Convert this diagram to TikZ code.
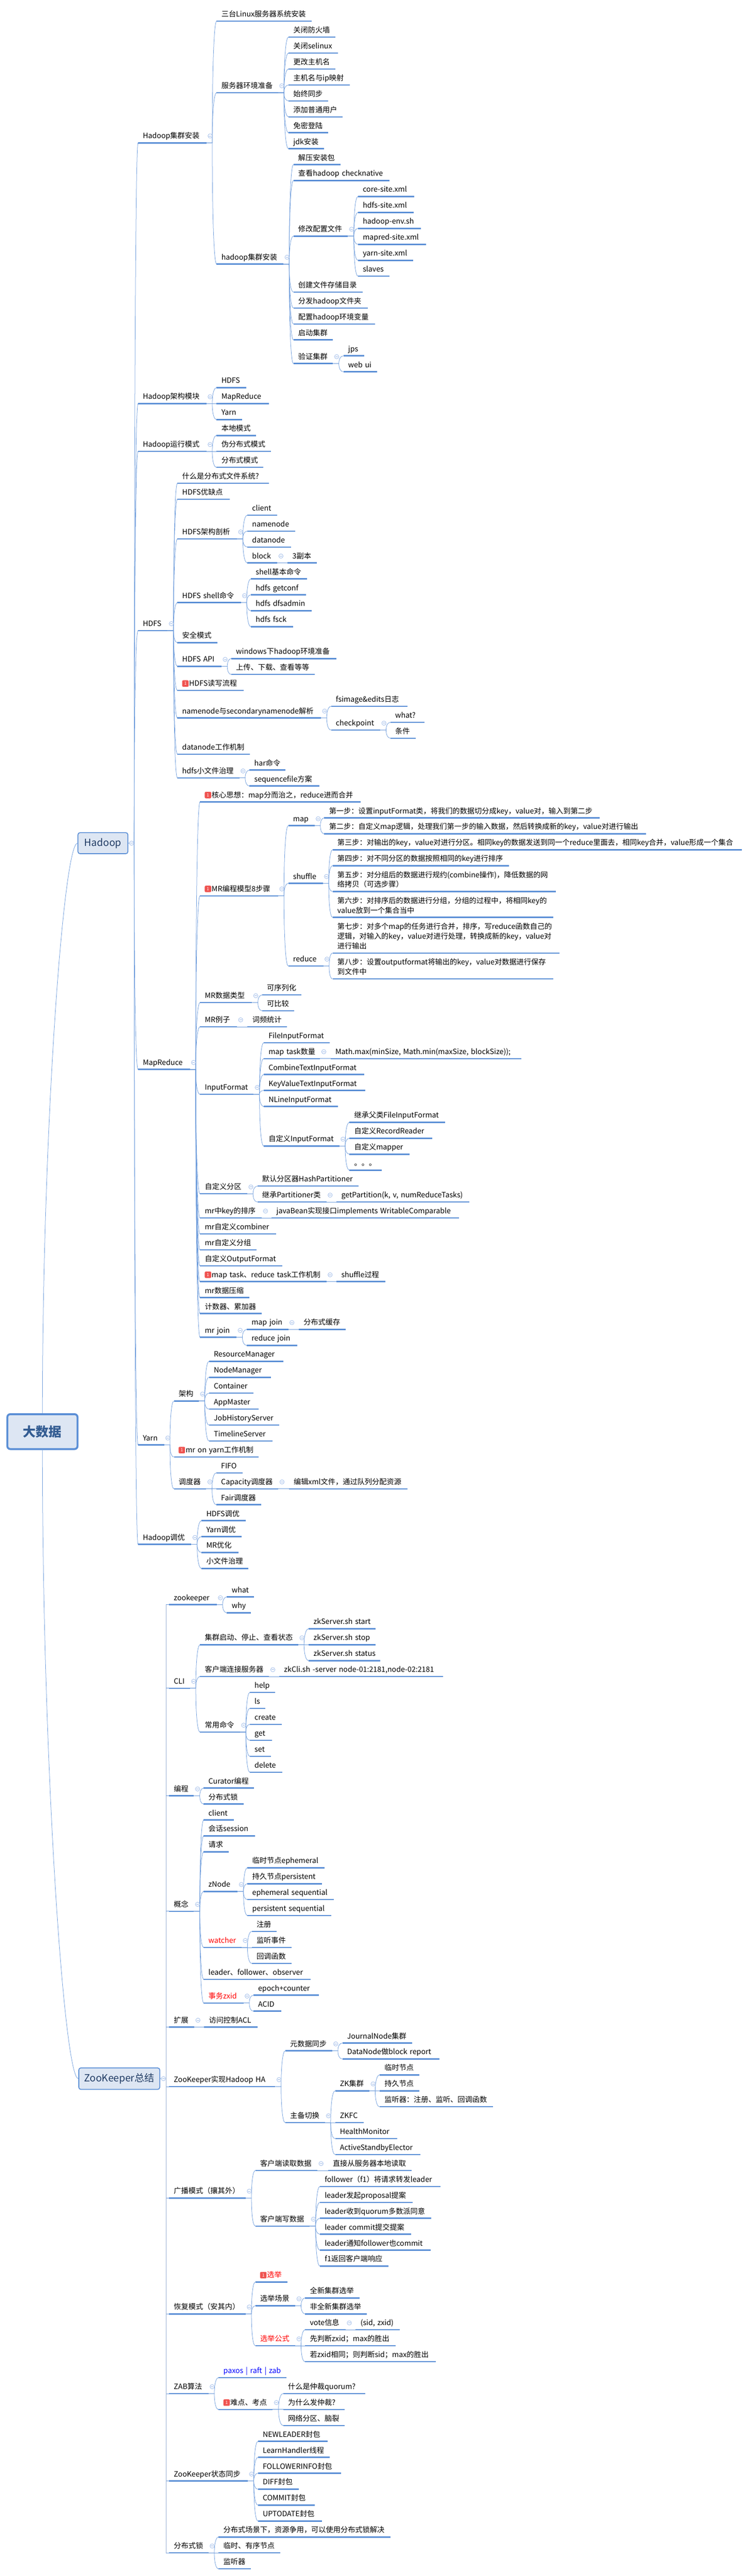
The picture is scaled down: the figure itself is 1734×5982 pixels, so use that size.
\documentclass[tikz,border=0pt]{standalone}
\usepackage{fontspec}
\setmainfont{Noto Sans CJK SC}
\usetikzlibrary{calc}
\definecolor{ulblue}{HTML}{5B8FD6}
\definecolor{lnblue}{HTML}{6C9BDB}
\definecolor{elbow}{HTML}{9DB2D3}
\definecolor{foldc}{HTML}{9DBAE8}
\definecolor{boxfill}{HTML}{DDE6F3}
\definecolor{rootink}{HTML}{335C92}
\definecolor{zkink}{HTML}{1F3A63}
\definecolor{badgered}{HTML}{EF5350}
\tikzset{
  topic/.style={anchor=south west,inner xsep=11pt,inner ysep=0pt,align=left,text depth=10pt,text height=13pt,
    font=\fontsize{17}{22.5}\selectfont,text=black},
  twolines/.style={text depth=32.5pt},
  threelines/.style={text depth=55pt},
  ul/.style={draw=ulblue,line width=3pt},
  conn/.style={draw=lnblue,line width=0.9pt},
  connel/.style={draw=elbow,line width=0.9pt},
  foldicon/.style={circle,draw=foldc,fill=white,line width=0.9pt,minimum size=10pt,inner sep=0pt},
  foldbar/.style={draw=foldc,line width=0.9pt},
  badge/.style={rectangle,fill=badgered,rounded corners=2.5pt,minimum width=15pt,minimum height=15pt,inner sep=0pt,
    text=white,font=\fontsize{10}{10}\selectfont},
  rootbox/.style={rectangle,draw=ulblue,fill=boxfill,line width=4.5pt,rounded corners=7pt,text=rootink,
    font=\fontsize{30}{30}\selectfont\bfseries,inner sep=0pt},
  mainbox/.style={rectangle,draw=ulblue,fill=boxfill,line width=2pt,rounded corners=5pt,text=zkink,
    font=\fontsize{23}{23}\selectfont,inner sep=0pt,anchor=west},
}
\newcommand{\Ln}[1]{\leavevmode\rlap{#1}}
% \Tp[opts]{name}{x left}{x right}{y of the underline}{text}
\newcommand{\Tp}[6][]{%
  \pgfmathsetmacro{\tw}{#4-#3-22}%
  \node[topic,#1,text width=\tw pt] (#2) at (#3,#5) {\Ln{#6}};
  \draw[ul] (#2.south west) -- (#2.south east);
}
% several lines of text, each in its own \Ln
\newcommand{\Tm}[6][]{%
  \pgfmathsetmacro{\tw}{#4-#3-22}%
  \node[topic,#1,text width=\tw pt] (#2) at (#3,#5) {#6};
  \draw[ul] (#2.south west) -- (#2.south east);
}
\newcommand{\Conn}[3][south east]{%
  \draw[conn] let \p1=(#2.#1),\p2=(#3.south west) in
    (\p1) -- (\x1+13.5pt,\y1)
    .. controls (\x1+13.5pt,{\y1+0.5*(\y2-\y1)}) and ({\x1+13.5pt+0.3*(\x2-\x1-13.5pt)},\y2) .. (\p2);
}
\newcommand{\Fold}[2][south east]{%
  \node[foldicon] (f-#2) at ($(#2.#1)+(8.5,-16)$) {};
  \draw[foldbar] ($(f-#2.west)+(2.5,0)$) -- ($(f-#2.east)+(-2.5,0)$);
}
\newcommand{\FoldE}[1]{%
  \node[foldicon] (f-#1) at ($(#1.east)+(7.5,0)$) {};
  \draw[foldbar] ($(f-#1.west)+(2.5,0)$) -- ($(f-#1.east)+(-2.5,0)$);
}
\newcommand{\Kids}[2]{%
  \foreach \kid in {#2} {\Conn{#1}{\kid}}
  \Fold{#1}
}
\newcommand{\Badge}[1]{\node[badge] (b-#1) at ($(#1.south west)+(18.5,-16)$) {1};}
\begin{document}
\begin{tikzpicture}[x=1pt,y=-1pt]
\useasboundingbox (0,0) rectangle (1734,5982);
\fill[white] (0,0) rectangle (1734,5982);

% ---------- roots
\node[rootbox,minimum width=163pt,minimum height=81pt] (root) at (98.5,3324.5) {大数据};
\node[mainbox,minimum width=116pt,minimum height=49pt] (hadoop) at (180,1958) {Hadoop};
\node[mainbox,minimum width=188pt,minimum height=50pt] (zk) at (182,4827) {ZooKeeper总结};

% ---------- Hadoop: first level
\Tp{h1}{320.5}{479}{331.7}{Hadoop集群安装}
\Tp{h2}{320.5}{479}{937.3}{Hadoop架构模块}
\Tp{h3}{320.5}{479}{1048.3}{Hadoop运行模式}
\Tp{h4}{320.5}{389}{1464.3}{HDFS}
\Tp{h5}{320.5}{440.6}{2483.3}{MapReduce}
\Tp{h6}{320.5}{380.8}{3355.3}{Yarn}
\Tp{h7}{320.5}{443.8}{3586.3}{Hadoop调优}

% Hadoop集群安装
\Tp{a1}{503}{723}{49.3}{三台Linux服务器系统安装}
\Tp{a2}{503}{645.5}{215.3}{服务器环境准备}
\Tp{a3}{503}{657.7}{613.3}{hadoop集群安装}
\Tp{a21}{670}{778}{86.3}{关闭防火墙}
\Tp{a22}{670}{784.6}{123.3}{关闭selinux}
\Tp{a23}{670}{778}{160.3}{更改主机名}
\Tp{a24}{670}{811.5}{197.3}{主机名与ip映射}
\Tp{a25}{670}{761.5}{234.3}{始终同步}
\Tp{a26}{670}{795.5}{271.3}{添加普通用户}
\Tp{a27}{670}{761.5}{308.3}{免密登陆}
\Tp{a28}{670}{752}{345.3}{jdk安装}
\Tp{a31}{681.4}{790.4}{382.3}{解压安装包}
\Tp{a32}{681.4}{904}{419.3}{查看hadoop checknative}
\Tp{a33}{681.4}{807.7}{548.3}{修改配置文件}
\Tp{a34}{681.4}{841.7}{678.3}{创建文件存储目录}
\Tp{a35}{681.4}{853.8}{715.3}{分发hadoop文件夹}
\Tp{a36}{681.4}{870.5}{752.3}{配置hadoop环境变量}
\Tp{a37}{681.4}{773}{789.3}{启动集群}
\Tp{a38}{681.4}{773}{844.3}{验证集群}
\Tp{a331}{831.4}{961.5}{456.3}{core-site.xml}
\Tp{a332}{831.4}{960.3}{493.3}{hdfs-site.xml}
\Tp{a333}{831.4}{977.6}{530.5}{hadoop-env.sh}
\Tp{a334}{831.4}{988.5}{567.5}{mapred-site.xml}
\Tp{a335}{831.4}{959}{604.5}{yarn-site.xml}
\Tp{a336}{831.4}{904}{641.5}{slaves}
\Tp{a381}{797.4}{845}{826.3}{jps}
\Tp{a382}{797.4}{875}{863.3}{web ui}
% 架构模块, 运行模式
\Tp{b1}{503}{571}{900.3}{HDFS}
\Tp{b2}{503}{624.4}{937.3}{MapReduce}
\Tp{b3}{503}{562}{974.3}{Yarn}
\Tp{c1}{503}{594}{1011.3}{本地模式}
\Tp{c2}{503}{629}{1048.3}{伪分布式模式}
\Tp{c3}{503}{611.5}{1085.3}{分布式模式}
% HDFS
\Tp{d1}{412}{624.4}{1122.3}{什么是分布式文件系统?}
\Tp{d2}{412}{533}{1159.3}{HDFS优缺点}
\Tp{d3}{412}{550}{1251.3}{HDFS架构剖析}
\Tp{d4}{412}{559}{1399.3}{HDFS shell命令}
\Tp{d5}{412}{505}{1492.3}{安全模式}
\Tp{d6}{412}{514}{1547.3}{HDFS API}
\Tp{d7}{412}{565.6}{1603.3}{\hspace*{16pt}HDFS读写流程}
\Tp{d8}{412}{744.9}{1667.3}{namenode与secondarynamenode解析}
\Tp{d9}{412}{580.3}{1751.3}{datanode工作机制}
\Tp{d10}{412}{555.5}{1806.3}{hdfs小文件治理}
\Badge{d7}
\Tp{d31}{574.4}{643.6}{1196.3}{client}
\Tp{d32}{574.4}{684.6}{1233.3}{namenode}
\Tp{d33}{574.4}{675}{1270.3}{datanode}
\Tp{d34}{574.4}{643.6}{1307.3}{block}
\Tp{d341}{668}{735}{1307.3}{3副本}
\Tp{d41}{582.7}{712.8}{1344.3}{shell基本命令}
\Tp{d42}{582.7}{710}{1381.3}{hdfs getconf}
\Tp{d43}{582.7}{724}{1418.3}{hdfs dfsadmin}
\Tp{d44}{582.7}{680}{1455.3}{hdfs fsck}
\Tp{d61}{537}{781.4}{1529.3}{windows下hadoop环境准备}
\Tp{d62}{537}{730}{1566.3}{上传、下载、查看等等}
\Tp{d81}{768.8}{946}{1640.3}{fsimage\&edits日志}
\Tp{d82}{768.8}{882.7}{1695.3}{checkpoint}
\Tp{d821}{906.6}{985.7}{1677.3}{what?}
\Tp{d822}{906.6}{964.5}{1714.3}{条件}
\Tp{d101}{579.4}{662}{1788.3}{har命令}
\Tp{d102}{579.4}{741}{1825.3}{sequencefile方案}
% MapReduce
\Tp{e1}{464.5}{836.8}{1862.3}{\hspace*{16pt}核心思想：map分而治之，reduce进而合并}
\Tp{e2}{464.5}{645.6}{2080.3}{\hspace*{16pt}MR编程模型8步骤}
\Tp{e3}{464.5}{585}{2328.3}{MR数据类型}
\Tp{e4}{464.5}{550}{2384.3}{MR例子}
\Tp{e5}{464.5}{588.6}{2541.3}{InputFormat}
\Tp{e6}{464.5}{573.8}{2772.3}{自定义分区}
\Tp{e7}{464.5}{607.7}{2828.3}{mr中key的排序}
\Tp{e8}{464.5}{640.8}{2865.3}{mr自定义combiner}
\Tp{e9}{464.5}{595.4}{2902.3}{mr自定义分组}
\Tp{e10}{464.5}{655.4}{2939.3}{自定义OutputFormat}
\Tp{e11}{464.5}{757.7}{2976.3}{\hspace*{16pt}map task、reduce task工作机制}
\Tp{e12}{464.5}{578.5}{3013.3}{mr数据压缩}
\Tp{e13}{464.5}{607.7}{3050.3}{计数器、累加器}
\Tp{e14}{464.5}{549}{3105.3}{mr join}
\Badge{e1}\Badge{e2}\Badge{e11}
\Tp{e21}{669.5}{730}{1917.3}{map}
\Tp{e22}{669.5}{749.4}{2051.3}{shuffle}
\Tp{e23}{669.5}{750.4}{2243.3}{reduce}
\Tp{s1}{753}{1392}{1899.3}{第一步：设置inputFormat类，将我们的数据切分成key，value对，输入到第二步}
\Tp{s2}{753}{1499.5}{1936.3}{第二步：自定义map逻辑，处理我们第一步的输入数据，然后转换成新的key，value对进行输出}
\Tp{s3}{772.4}{1722.8}{1973.3}{第三步：对输出的key，value对进行分区。相同key的数据发送到同一个reduce里面去，相同key合并，value形成一个集合}
\Tp{s4}{772.4}{1182}{2010.3}{第四步：对不同分区的数据按照相同的key进行排序}
\Tm[twolines]{s5}{772.4}{1290}{2070.3}{\Ln{第五步：对分组后的数据进行规约(combine操作)，降低数据的网}\\\Ln{络拷贝（可选步骤）}}
\Tm[twolines]{s6}{772.4}{1285}{2130.3}{\Ln{第六步：对排序后的数据进行分组，分组的过程中，将相同key的}\\\Ln{value放到一个集合当中}}
\Tm[threelines]{s7}{772.4}{1299}{2213.3}{\Ln{第七步：对多个map的任务进行合并，排序，写reduce函数自己的}\\\Ln{逻辑，对输入的key，value对进行处理，转换成新的key，value对}\\\Ln{进行输出}}
\Tm[twolines]{s8}{772.4}{1284}{2273.3}{\Ln{第八步：设置outputformat将输出的key，value对数据进行保存}\\\Ln{到文件中}}
\Tp{e31}{608.8}{699.8}{2310.3}{可序列化}
\Tp{e32}{608.8}{683.3}{2347.3}{可比较}
\Tp{e41}{574.8}{665.8}{2384.3}{词频统计}
\Tp{e51}{612.5}{765}{2421.3}{FileInputFormat}
\Tp{e52}{612.5}{743}{2458.3}{map task数量}
\Tp{e53}{612.5}{846}{2495.3}{CombineTextInputFormat}
\Tp{e54}{612.5}{847.8}{2532.3}{KeyValueTextInputFormat}
\Tp{e55}{612.5}{784.4}{2569.3}{NLineInputFormat}
\Tp{e56}{612.5}{787.7}{2661.3}{自定义InputFormat}
\Tp{e521}{767.8}{1210.8}{2458.3}{Math.max(minSize, Math.min(maxSize, blockSize));}
\Tp{e561}{811.5}{1033}{2606.3}{继承父类FileInputFormat}
\Tp{e562}{811.5}{1003}{2643.3}{自定义RecordReader}
\Tp{e563}{811.5}{950.8}{2680.3}{自定义mapper}
\Tp{e564}{811.5}{886}{2717.3}{。。。}
\Tp{e61}{597.7}{832.3}{2754.3}{默认分区器HashPartitioner}
\Tp{e62}{597.7}{757.7}{2791.3}{继承Partitioner类}
\Tp{e621}{781.5}{1089}{2791.3}{getPartition(k, v, numReduceTasks)}
\Tp{e71}{630.8}{1066}{2828.3}{javaBean实现接口implements WritableComparable}
\Tp{e111}{781.5}{894.6}{2976.3}{shuffle过程}
\Tp{e141}{573}{669}{3087.3}{map join}
\Tp{e142}{573}{690}{3124.3}{reduce join}
\Tp{e1411}{693.8}{802.3}{3087.3}{分布式缓存}
% Yarn
\Tp{f1}{403.8}{461.5}{3253.3}{架构}
\Tp{f2}{403.8}{600}{3383.3}{\hspace*{16pt}mr on yarn工作机制}
\Tp{f3}{403.8}{478.5}{3457.3}{调度器}
\Badge{f2}
\Tp{f11}{485.4}{657.7}{3161.3}{ResourceManager}
\Tp{f12}{485.4}{628.5}{3198.3}{NodeManager}
\Tp{f13}{485.4}{588.5}{3235.3}{Container}
\Tp{f14}{485.4}{600}{3272.3}{AppMaster}
\Tp{f15}{485.4}{648.5}{3309.3}{JobHistoryServer}
\Tp{f16}{485.4}{632.3}{3346.3}{TimelineServer}
\Tp{f31}{502.3}{563}{3420.3}{FIFO}
\Tp{f32}{502.3}{646}{3457.3}{Capacity调度器}
\Tp{f33}{502.3}{606}{3494.3}{Fair调度器}
\Tp{f321}{670.8}{946}{3457.3}{编辑xml文件，通过队列分配资源}
% 调优
\Tp{g1}{468}{570.8}{3531.3}{HDFS调优}
\Tp{g2}{468}{560.8}{3568.3}{Yarn调优}
\Tp{g3}{468}{553}{3605.3}{MR优化}
\Tp{g4}{468}{576}{3642.3}{小文件治理}

% ---------- ZooKeeper: first level
\Tp{z1}{392.5}{503}{3726.3}{zookeeper}
\Tp{z2}{392.5}{440.8}{3920.3}{CLI}
\Tp{z3}{392.5}{450}{4170.3}{编程}
\Tp{z4}{392.5}{450}{4438.3}{概念}
\Tp{z5}{392.5}{450.8}{4707.3}{扩展}
\Tp{z6}{392.5}{639}{4845.3}{ZooKeeper实现Hadoop HA}
\Tp{z7}{392.5}{570}{5104.3}{广播模式（攘其外）}
\Tp{z8}{392.5}{570}{5373.3}{恢复模式（安其内）}
\Tp{z9}{392.5}{483.8}{5558.3}{ZAB算法}
\Tp{z10}{392.5}{575.4}{5761.3}{ZooKeeper状态同步}
\Tp{z11}{392.5}{483.8}{5928.3}{分布式锁}

\Tp{z11a}{527}{589}{3708.3}{what}
\Tp{z12a}{527}{582}{3745.3}{why}
\Tp{z21}{464.6}{692.3}{3819.3}{集群启动、停止、查看状态}
\Tp{z22}{464.6}{624.6}{3893.3}{客户端连接服务器}
\Tp{z23}{464.6}{557}{4022.3}{常用命令}
\Tp{z211}{717}{871.5}{3782.3}{zkServer.sh start}
\Tp{z212}{717}{871.5}{3819.3}{zkServer.sh stop}
\Tp{z213}{717}{883}{3856.3}{zkServer.sh status}
\Tp{z221}{648.5}{1029}{3893.3}{zkCli.sh -server node-01:2181,node-02:2181}
\Tp{z231}{580}{639}{3930.3}{help}
\Tp{z232}{580}{616}{3967.3}{ls}
\Tp{z233}{580}{653.8}{4004.3}{create}
\Tp{z234}{580}{631.5}{4041.3}{get}
\Tp{z235}{580}{628.5}{4078.3}{set}
\Tp{z236}{580}{655.4}{4115.3}{delete}
\Tp{z31}{473}{590}{4152.3}{Curator编程}
\Tp{z32}{473}{565.4}{4189.3}{分布式锁}
\Tp{z41}{473}{543}{4226.3}{client}
\Tp{z42}{473}{592.3}{4263.3}{会话session}
\Tp{z43}{473}{530.8}{4300.3}{请求}
\Tp{z44}{473}{551.5}{4392.3}{zNode}
\Tp[text=red]{z45}{473}{560.8}{4522.3}{watcher}
\Tp{z46}{473}{721.5}{4596.3}{leader、follower、observer}
\Tp[text=red]{z47}{473}{565}{4651.3}{事务zxid}
\Tp{z441}{574.6}{753.8}{4337.3}{临时节点ephemeral}
\Tp{z442}{574.6}{747.7}{4374.3}{持久节点persistent}
\Tp{z443}{574.6}{775.4}{4411.3}{ephemeral sequential}
\Tp{z444}{574.6}{768.5}{4448.3}{persistent sequential}
\Tp{z451}{584.6}{642.3}{4485.3}{注册}
\Tp{z452}{584.6}{677}{4522.3}{监听事件}
\Tp{z453}{584.6}{677}{4559.3}{回调函数}
\Tp{z471}{588.3}{740}{4633.3}{epoch+counter}
\Tp{z472}{588.3}{653.3}{4670.3}{ACID}
\Tp{z51}{474}{598.3}{4707.3}{访问控制ACL}
\Tp{z61}{662.5}{770.8}{4762.3}{元数据同步}
\Tp{z62}{662.5}{754}{4929.3}{主备切换}
\Tp{z611}{795}{956.7}{4744.3}{JournalNode集群}
\Tp{z612}{795}{1020}{4781.3}{DataNode做block report}
\Tp{z621}{778.3}{857.5}{4855.3}{ZK集群}
\Tp{z622}{778.3}{844}{4929.3}{ZKFC}
\Tp{z623}{778.3}{921.7}{4966.3}{HealthMonitor}
\Tp{z624}{778.3}{975.8}{5003.3}{ActiveStandbyElector}
\Tp{z6211}{881.7}{973.3}{4818.3}{临时节点}
\Tp{z6212}{881.7}{973.3}{4855.3}{持久节点}
\Tp{z6213}{881.7}{1144}{4892.3}{监听器：注册、监听、回调函数}
\Tp{z71}{593}{736.7}{5040.3}{客户端读取数据}
\Tp{z72}{593}{719}{5169.3}{客户端写数据}
\Tp{z711}{761.7}{955}{5040.3}{直接从服务器本地读取}
\Tp{z721}{743}{1022.5}{5077.3}{follower（f1）将请求转发leader}
\Tp{z722}{743}{958.5}{5114.3}{leader发起proposal提案}
\Tp{z723}{743}{1001.5}{5151.3}{leader收到quorum多数派同意}
\Tp{z724}{743}{953.8}{5188.3}{leader commit提交提案}
\Tp{z725}{743}{1000}{5225.3}{leader通知follower也commit}
\Tp{z726}{743}{901.5}{5262.3}{f1返回客户端响应}
\Tp[text=red]{z81}{593}{667.7}{5299.3}{\hspace*{16pt}选举}
\Tp{z82}{593}{685.4}{5354.3}{选举场景}
\Tp[text=red]{z83}{593}{685.4}{5447.3}{选举公式}
\Badge{z81}
\Tp{z821}{708.5}{834.6}{5336.3}{全新集群选举}
\Tp{z822}{708.5}{851.5}{5373.3}{非全新集群选举}
\Tp{z831}{708.5}{802.3}{5410.3}{vote信息}
\Tp{z832}{708.5}{919}{5447.3}{先判断zxid；max的胜出}
\Tp{z833}{708.5}{1011.5}{5484.3}{若zxid相同；则判断sid；max的胜出}
\Tp{z8311}{826}{927.7}{5410.3}{(sid, zxid)}
\Tp[text=blue]{z91}{507.7}{664.6}{5521.3}{paxos | raft | zab}
\Tp{z92}{507.7}{633}{5595.3}{\hspace*{16pt}难点、考点}
\Badge{z92}
\Tp{z921}{657.7}{847.7}{5558.3}{什么是仲裁quorum?}
\Tp{z922}{657.7}{800}{5595.3}{为什么发仲裁?}
\Tp{z923}{657.7}{800}{5632.3}{网络分区、脑裂}
\Tp{z101}{599}{760}{5669.3}{NEWLEADER封包}
\Tp{z102}{599}{765.4}{5706.3}{LearnHandler线程}
\Tp{z103}{599}{791.5}{5743.3}{FOLLOWERINFO封包}
\Tp{z104}{599}{693}{5780.3}{DIFF封包}
\Tp{z105}{599}{730.8}{5817.3}{COMMIT封包}
\Tp{z106}{599}{747.7}{5854.3}{UPTODATE封包}
\Tp{z111}{507.7}{907}{5891.3}{分布式场景下，资源争用，可以使用分布式锁解决}
\Tp{z112}{507.7}{650.8}{5928.3}{临时、有序节点}
\Tp{z113}{507.7}{582.3}{5965.3}{监听器}

% ---------- connectors
\draw[conn] let \p1=(root.north),\p2=(hadoop.west) in (\p1)
  .. controls (\x1,{\y1+0.5*(\y2-\y1)}) and ({\x1+0.6*(\x2-\x1)},\y2) .. (\p2);
\draw[conn] let \p1=(root.south),\p2=(zk.west) in (\p1)
  .. controls (\x1,{\y1+0.5*(\y2-\y1)}) and ({\x1+0.6*(\x2-\x1)},\y2) .. (\p2);
\foreach \kid in {h1,h2,h3,h4,h5,h6,h7} {\Conn[east]{hadoop}{\kid}}
\FoldE{hadoop}
\foreach \kid in {z1,z2,z3,z4,z5,z6,z7,z8,z9,z10,z11} {
  \draw[connel] let \p1=(zk.east),\p2=(\kid.south west) in (\p1) -- (\x1+13.5pt,\y1) -- (\x1+13.5pt,\y2) -- (\p2);
  \draw[conn] let \p1=(zk.east),\p2=(\kid.south west) in (\x1+13.5pt,\y2) -- (\p2);
}
\FoldE{zk}
\Kids{h1}{a1,a2,a3}
\Kids{a2}{a21,a22,a23,a24,a25,a26,a27,a28}
\Kids{a3}{a31,a32,a33,a34,a35,a36,a37,a38}
\Kids{a33}{a331,a332,a333,a334,a335,a336}
\Kids{a38}{a381,a382}
\Kids{h2}{b1,b2,b3}
\Kids{h3}{c1,c2,c3}
\Kids{h4}{d1,d2,d3,d4,d5,d6,d7,d8,d9,d10}
\Kids{d3}{d31,d32,d33,d34}
\Kids{d34}{d341}
\Kids{d4}{d41,d42,d43,d44}
\Kids{d6}{d61,d62}
\Kids{d8}{d81,d82}
\Kids{d82}{d821,d822}
\Kids{d10}{d101,d102}
\Kids{h5}{e1,e2,e3,e4,e5,e6,e7,e8,e9,e10,e11,e12,e13,e14}
\Kids{e2}{e21,e22,e23}
\Kids{e21}{s1,s2}
\Kids{e22}{s3,s4,s5,s6}
\Kids{e23}{s7,s8}
\Kids{e3}{e31,e32}
\Kids{e4}{e41}
\Kids{e5}{e51,e52,e53,e54,e55,e56}
\Kids{e52}{e521}
\Kids{e56}{e561,e562,e563,e564}
\Kids{e6}{e61,e62}
\Kids{e62}{e621}
\Kids{e7}{e71}
\Kids{e11}{e111}
\Kids{e14}{e141,e142}
\Kids{e141}{e1411}
\Kids{h6}{f1,f2,f3}
\Kids{f1}{f11,f12,f13,f14,f15,f16}
\Kids{f3}{f31,f32,f33}
\Kids{f32}{f321}
\Kids{h7}{g1,g2,g3,g4}
\Kids{z1}{z11a,z12a}
\Kids{z2}{z21,z22,z23}
\Kids{z21}{z211,z212,z213}
\Kids{z22}{z221}
\Kids{z23}{z231,z232,z233,z234,z235,z236}
\Kids{z3}{z31,z32}
\Kids{z4}{z41,z42,z43,z44,z45,z46,z47}
\Kids{z44}{z441,z442,z443,z444}
\Kids{z45}{z451,z452,z453}
\Kids{z47}{z471,z472}
\Kids{z5}{z51}
\Kids{z6}{z61,z62}
\Kids{z61}{z611,z612}
\Kids{z62}{z621,z622,z623,z624}
\Kids{z621}{z6211,z6212,z6213}
\Kids{z7}{z71,z72}
\Kids{z71}{z711}
\Kids{z72}{z721,z722,z723,z724,z725,z726}
\Kids{z8}{z81,z82,z83}
\Kids{z82}{z821,z822}
\Kids{z83}{z831,z832,z833}
\Kids{z831}{z8311}
\Kids{z9}{z91,z92}
\Kids{z92}{z921,z922,z923}
\Kids{z10}{z101,z102,z103,z104,z105,z106}
\Kids{z11}{z111,z112,z113}
\end{tikzpicture}
\end{document}
